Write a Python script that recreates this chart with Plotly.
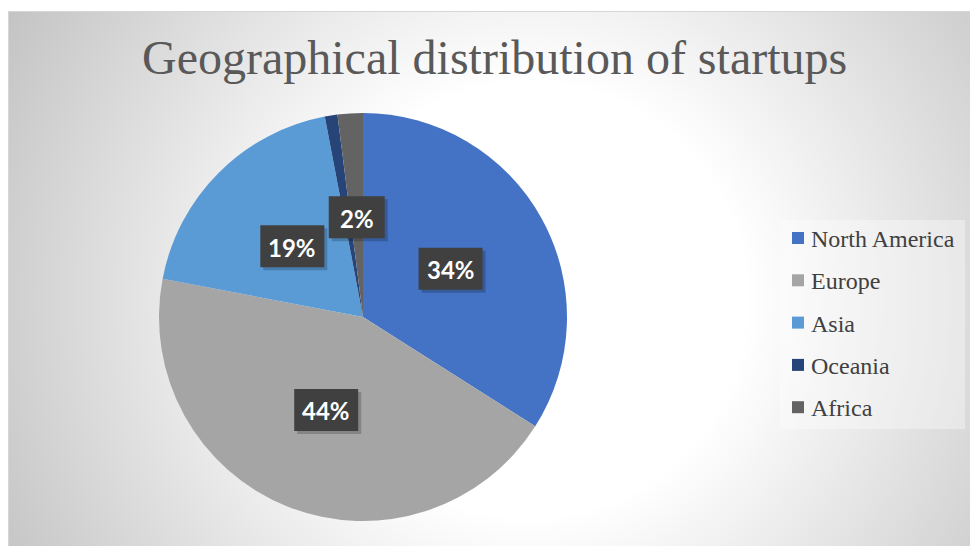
import base64
import math
import plotly.graph_objects as go

# ---- data ----
regions = ["North America", "Europe", "Asia", "Oceania", "Africa"]
shares = [34, 44, 19, 1, 2]
colors = ["#4472C4", "#A5A5A5", "#5B9BD5", "#264478", "#636363"]
show_label = [True, True, True, False, True]
title_text = "Geographical distribution of startups"

SERIF = "'Liberation Serif', 'Times New Roman', 'DejaVu Serif', serif"
SANS = "Lato, 'Open Sans', sans-serif"

# ---- canvas / layout geometry (pixels) ----
W, H = 970, 546
frame_x0, frame_y0 = 8, 11
cx, cy, rad = 363, 317, 204
label_r = 0.49  # label distance from centre, as a fraction of the radius


def px_x(x):
    return x / W


def px_y(y):
    return 1 - y / H


# radial grey-to-white chart area background as an inline SVG
fw, fh = W - frame_x0, H - frame_y0
bg_svg = f"""<svg xmlns='http://www.w3.org/2000/svg' width='{fw}' height='{fh}' viewBox='0 0 {fw} {fh}' preserveAspectRatio='none'>
<defs><radialGradient id='g' gradientUnits='userSpaceOnUse' cx='{530 - frame_x0}' cy='{300 - frame_y0}' r='600'>
<stop offset='0' stop-color='#ffffff'/><stop offset='0.36' stop-color='#ffffff'/>
<stop offset='1' stop-color='#c3c3c3'/></radialGradient></defs>
<rect x='0' y='0' width='{fw}' height='{fh}' fill='url(#g)'/></svg>"""
bg_uri = "data:image/svg+xml;base64," + base64.b64encode(bg_svg.encode()).decode()

fig = go.Figure()
fig.add_trace(go.Pie(
    labels=regions,
    values=shares,
    marker=dict(colors=colors, line=dict(width=0)),
    sort=False,
    direction="clockwise",
    rotation=0,
    textinfo="none",
    hoverinfo="label+percent",
    showlegend=False,
    domain=dict(x=[px_x(cx - rad), px_x(cx + rad)],
                y=[px_y(cy + rad), px_y(cy - rad)]),
))

annotations = []
shapes = []

# percentage call-outs placed at each slice's mid angle
total = sum(shares)
cum = 0.0
for name, val, show in zip(regions, shares, show_label):
    mid = (cum + val / 2) / total * 2 * math.pi
    cum += val
    if not show:
        continue
    lx = cx + label_r * rad * math.sin(mid)
    ly = cy - label_r * rad * math.cos(mid)
    txt = f"{round(val / total * 100)}%"
    bw, bh = 40 + 8 * len(txt), 42
    # soft drop shadow, then the dark box
    shapes.append(dict(type="rect", xref="paper", yref="paper",
                       x0=px_x(lx - bw / 2 + 3), x1=px_x(lx + bw / 2 + 3),
                       y0=px_y(ly + bh / 2 + 3), y1=px_y(ly - bh / 2 + 3),
                       fillcolor="rgba(0,0,0,0.2)", line=dict(width=0)))
    shapes.append(dict(type="rect", xref="paper", yref="paper",
                       x0=px_x(lx - bw / 2), x1=px_x(lx + bw / 2),
                       y0=px_y(ly + bh / 2), y1=px_y(ly - bh / 2),
                       fillcolor="#404040", line=dict(width=0)))
    annotations.append(dict(xref="paper", yref="paper", x=px_x(lx), y=px_y(ly + 1),
                            xanchor="center", yanchor="middle", showarrow=False,
                            text=f"<b>{txt}</b>",
                            font=dict(family=SANS, size=24, color="#ffffff")))

# title
annotations.append(dict(xref="paper", yref="paper", x=px_x(495), y=px_y(58),
                        xanchor="center", yanchor="middle", showarrow=False,
                        text=title_text,
                        font=dict(family=SERIF, size=48, color="#595959")))

# legend
leg_x, leg_y0, leg_dy, sq = 798, 238, 42.3, 12
shapes.append(dict(type="rect", xref="paper", yref="paper",
                   x0=px_x(780), x1=px_x(965), y0=px_y(429), y1=px_y(220),
                   fillcolor="rgba(255,255,255,0.35)", line=dict(width=0), layer="below"))
for i, (name, col) in enumerate(zip(regions, colors)):
    yc = leg_y0 + i * leg_dy
    shapes.append(dict(type="rect", xref="paper", yref="paper",
                       x0=px_x(leg_x - sq / 2), x1=px_x(leg_x + sq / 2),
                       y0=px_y(yc + sq / 2), y1=px_y(yc - sq / 2),
                       fillcolor=col, line=dict(width=0)))
    annotations.append(dict(xref="paper", yref="paper", x=px_x(809), y=px_y(yc + 1),
                            xanchor="left", yanchor="middle", showarrow=False,
                            text=name,
                            font=dict(family=SERIF, size=24, color="#404040")))

# thin frame around the chart area
shapes.append(dict(type="rect", xref="paper", yref="paper",
                   x0=px_x(frame_x0 + 0.5), x1=px_x(W + 2), y0=px_y(H + 2), y1=px_y(frame_y0 + 0.5),
                   line=dict(color="#d6d6d6", width=1), fillcolor="rgba(0,0,0,0)", layer="below"))

fig.update_layout(
    width=W, height=H,
    margin=dict(l=0, r=0, t=0, b=0),
    paper_bgcolor="#ffffff",
    plot_bgcolor="rgba(0,0,0,0)",
    images=[dict(source=bg_uri, xref="paper", yref="paper",
                 x=px_x(frame_x0), y=px_y(frame_y0), sizex=fw / W, sizey=fh / H,
                 xanchor="left", yanchor="top", sizing="stretch", layer="below")],
    annotations=annotations,
    shapes=shapes,
)

fig.write_html("out.html")
